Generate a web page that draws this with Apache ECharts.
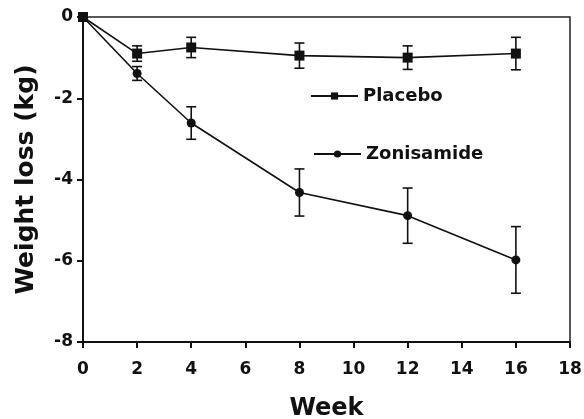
<!DOCTYPE html>
<html>
<head>
<meta charset="utf-8">
<script src="https://cdn.jsdelivr.net/npm/echarts@6/dist/echarts.min.js"></script>
<style>html,body{margin:0;padding:0;background:#fff}#c{width:584px;height:419px}</style>
</head>
<body>
<div id="c"></div>
<script>
var weeks = [0, 2, 4, 8, 12, 16];
var placebo = [0, -0.9, -0.75, -0.95, -1.0, -0.9];
var placeboErr = [0, 0.19, 0.25, 0.31, 0.29, 0.4];
var zonisamide = [0, -1.39, -2.61, -4.32, -4.89, -5.98];
var zonisamideErr = [0, 0.17, 0.4, 0.58, 0.68, 0.82];
var xTicks = [0, 2, 4, 6, 8, 10, 12, 14, 16, 18];
var yTicks = [-8, -6, -4, -2, 0];
var seriesNames = ['Placebo', 'Zonisamide'];

var FONT = '"DejaVu Sans", sans-serif';
var INK = '#111';

function pairs(vals) { return weeks.map(function (w, i) { return [w, vals[i]]; }); }
function errData(vals, errs) {
  var out = [];
  weeks.forEach(function (w, i) { if (errs[i] > 0) out.push([w, vals[i] - errs[i], vals[i] + errs[i]]); });
  return out;
}
function errRender(params, api) {
  var x = api.value(0);
  var lo = api.coord([x, api.value(1)]);
  var hi = api.coord([x, api.value(2)]);
  var cap = 5;
  var st = { stroke: INK, lineWidth: 1.6 };
  return {
    type: 'group',
    children: [
      { type: 'line', shape: { x1: lo[0], y1: lo[1], x2: hi[0], y2: hi[1] }, style: st },
      { type: 'line', shape: { x1: lo[0] - cap, y1: lo[1], x2: lo[0] + cap, y2: lo[1] }, style: st },
      { type: 'line', shape: { x1: hi[0] - cap, y1: hi[1], x2: hi[0] + cap, y2: hi[1] }, style: st }
    ]
  };
}

var chart = echarts.init(document.getElementById('c'), null, { renderer: 'canvas' });
var legendText = { fontFamily: FONT, fontWeight: 'bold', fontSize: 18, color: INK };
chart.setOption({
  animation: false,
  backgroundColor: '#fff',
  grid: { left: 83, right: 14, top: 17, bottom: 77, show: true, borderColor: '#222', borderWidth: 1.5,
          outerBoundsMode: 'none', containLabel: false },
  legend: [
    { data: [seriesNames[0]], left: 310, top: 87, padding: 0, itemWidth: 47, itemHeight: 9, selectedMode: false, textStyle: legendText },
    { data: [seriesNames[1]], left: 313, top: 145, padding: 0, itemWidth: 47, itemHeight: 9, selectedMode: false, textStyle: legendText }
  ],
  xAxis: {
    type: 'value', min: xTicks[0], max: xTicks[xTicks.length - 1], interval: 2,
    name: 'Week', nameLocation: 'middle', nameGap: 55,
    nameTextStyle: { fontFamily: FONT, fontWeight: 'bold', fontSize: 24, color: INK },
    axisLine: { onZero: false, lineStyle: { color: INK, width: 2 } },
    axisTick: { show: true, inside: false, length: 6, lineStyle: { color: INK, width: 2 } },
    axisLabel: { fontFamily: FONT, fontWeight: 'bold', fontSize: 17, color: INK, margin: 19 },
    splitLine: { show: false }
  },
  yAxis: {
    type: 'value', min: yTicks[0], max: yTicks[yTicks.length - 1], interval: 2,
    name: 'Weight loss (kg)', nameLocation: 'middle', nameGap: 44, nameRotate: 90,
    nameTextStyle: { fontFamily: FONT, fontWeight: 'bold', fontSize: 25, color: INK },
    axisLine: { show: true, onZero: false, lineStyle: { color: INK, width: 2 } },
    axisTick: { show: true, inside: false, length: 6, lineStyle: { color: INK, width: 2 } },
    axisLabel: { fontFamily: FONT, fontWeight: 'bold', fontSize: 17, color: INK, margin: 10 },
    splitLine: { show: false }
  },
  series: [
    { name: seriesNames[0], type: 'line', data: pairs(placebo), symbol: 'rect', symbolSize: 10,
      lineStyle: { color: INK, width: 1.6 }, itemStyle: { color: INK }, z: 3 },
    { name: seriesNames[1], type: 'line', data: pairs(zonisamide), symbol: 'circle', symbolSize: 9,
      lineStyle: { color: INK, width: 1.6 }, itemStyle: { color: INK }, z: 3 },
    { name: 'placeboErr', type: 'custom', data: errData(placebo, placeboErr), renderItem: errRender, z: 2 },
    { name: 'zonisamideErr', type: 'custom', data: errData(zonisamide, zonisamideErr), renderItem: errRender, z: 2 }
  ]
});
</script>
</body>
</html>
